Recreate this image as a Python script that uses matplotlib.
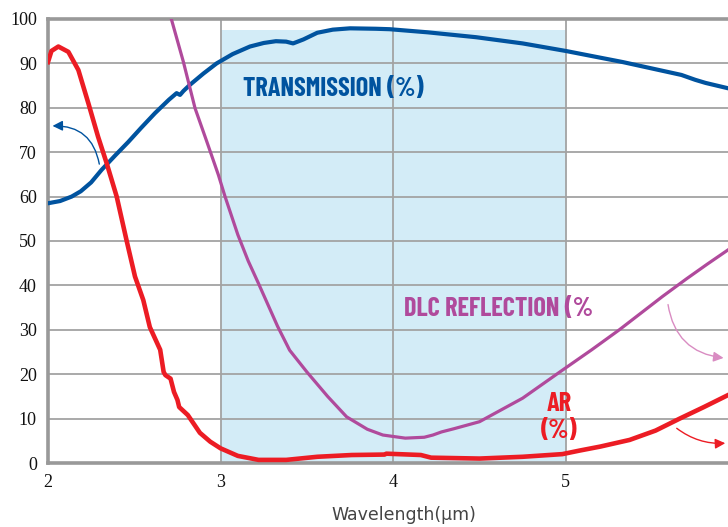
import matplotlib
matplotlib.use("Agg")
import matplotlib.pyplot as plt

# 数据
trans_x = [2.0, 2.07, 2.137, 2.19, 2.25, 2.31, 2.39, 2.465, 2.54, 2.62, 2.7, 2.745, 2.765,
           2.785, 2.82, 2.9, 2.977, 3.07, 3.17, 3.25, 3.32, 3.38, 3.42, 3.48, 3.56, 3.65,
           3.75, 3.9, 3.98, 4.2, 4.48, 4.75, 5.0, 5.33, 5.67, 5.75, 5.81, 5.94]
trans_y = [58.5, 59.0, 60.0, 61.2, 63.2, 66.0, 69.3, 72.3, 75.5, 78.8, 81.8, 83.3, 82.9,
           83.8, 85.1, 87.7, 90.0, 92.1, 93.8, 94.6, 95.0, 94.9, 94.5, 95.4, 96.9, 97.6,
           97.9, 97.8, 97.7, 97.0, 95.9, 94.5, 92.8, 90.3, 87.4, 86.3, 85.6, 84.4]

ar_x = [2.0, 2.02, 2.06, 2.118, 2.176, 2.234, 2.29, 2.34, 2.398, 2.456, 2.504, 2.552,
        2.59, 2.65, 2.67, 2.68, 2.71, 2.73, 2.75, 2.76, 2.81, 2.88, 2.94, 3.0, 3.1,
        3.22, 3.38, 3.56, 3.76, 3.95, 3.96, 4.16, 4.22, 4.5, 4.75, 4.98, 5.08, 5.2,
        5.37, 5.52, 5.66, 5.8, 5.94]
ar_y = [90.3, 92.8, 93.8, 92.6, 88.5, 81.0, 73.5, 67.5, 60.0, 50.0, 42.0, 36.7,
        30.6, 25.5, 20.5, 19.8, 19.0, 16.0, 14.2, 12.6, 10.8, 6.8, 4.8, 3.3, 1.6,
        0.7, 0.7, 1.4, 1.8, 1.9, 2.1, 1.8, 1.2, 1.0, 1.4, 2.0, 2.8, 3.7,
        5.2, 7.3, 10.0, 12.6, 15.3]

dlc_x = [2.716, 2.784, 2.852, 2.92, 2.987, 3.025, 3.10, 3.16, 3.22, 3.33, 3.40, 3.50,
         3.62, 3.73, 3.85, 3.94, 4.07, 4.18, 4.23, 4.28, 4.35, 4.5, 4.75, 4.98, 5.15,
         5.31, 5.45, 5.56, 5.7, 5.82, 5.94]
dlc_y = [99.8, 90.4, 79.9, 72.4, 64.9, 60.1, 51.4, 45.5, 40.4, 30.8, 25.4, 20.5,
         15.0, 10.4, 7.6, 6.3, 5.6, 5.8, 6.3, 7.0, 7.7, 9.3, 14.6, 20.9, 25.5,
         30.0, 34.2, 37.5, 41.5, 44.8, 48.0]

x_ticks = [2, 3, 4, 5]
y_ticks = [0, 10, 20, 30, 40, 50, 60, 70, 80, 90, 100]

BLUE = "#00539f"
RED = "#ec1c24"
PURPLE = "#b04a9c"
PINK = "#d98cc2"
SHADE = "#d3ecf7"
GRID = "#a3a3a3"
SPINE = "#999999"

# 窄体粗字 (类似 Helvetica Condensed)
label_font = dict(family=["Barlow Condensed", "DejaVu Sans"], weight="bold")

fig = plt.figure(figsize=(7.28, 5.27), dpi=100)
ax = fig.add_axes([48 / 728, 1 - 463 / 527, 1 - 48 / 728, (463 - 19) / 527])
ax.set_xlim(2, 2 + 680 / 172.6)
ax.set_ylim(0, 100)

# 3-5 μm 阴影区
ax.axvspan(3, 5, ymin=0, ymax=0.975, color=SHADE, lw=0, zorder=0)

for yv in y_ticks[1:-1]:
    ax.axhline(yv, color=GRID, lw=1.3, zorder=0.5)
for xv in x_ticks[1:]:
    ax.axvline(xv, color=GRID, lw=1.3, zorder=0.5)

ax.plot(trans_x, trans_y, color=BLUE, lw=3.0, zorder=3, solid_joinstyle="round")
ax.plot(dlc_x, dlc_y, color=PURPLE, lw=2.3, zorder=3, solid_joinstyle="round")
ax.plot(ar_x, ar_y, color=RED, lw=3.3, zorder=4, solid_joinstyle="round")

for side in ["left", "bottom", "top"]:
    ax.spines[side].set_color(SPINE)
    ax.spines[side].set_linewidth(2.6)
ax.spines["right"].set_visible(False)

ax.set_xticks(x_ticks)
ax.set_yticks(y_ticks)
ax.tick_params(length=0, labelsize=13, colors="#111111", pad=8)
for lab in ax.get_xticklabels() + ax.get_yticklabels():
    lab.set_fontfamily("Liberation Serif")

# 曲线标签
ax.text(3.13, 84.3, "TRANSMISSION (%)", color=BLUE, fontsize=19,
        ha="left", va="center", zorder=5, **label_font)
ax.text(4.06, 34.6, "DLC REFLECTION (%", color=PURPLE, fontsize=19,
        ha="left", va="center", zorder=5, **label_font)
ax.text(4.96, 13.3, "AR", color=RED, fontsize=19, ha="center", va="center",
        zorder=5, **label_font)
ax.text(4.96, 7.3, "(%)", color=RED, fontsize=19, ha="center", va="center",
        zorder=5, **label_font)

# 指示箭头
ax.annotate("", xy=(2.01, 75.9), xytext=(2.30, 66.7),
            arrowprops=dict(arrowstyle="-|>,head_length=0.6,head_width=0.3",
                            color=BLUE, lw=1.0,
                            connectionstyle="arc3,rad=0.45"), zorder=5)
ax.annotate("", xy=(5.93, 23.6), xytext=(5.59, 36.3),
            arrowprops=dict(arrowstyle="-|>,head_length=0.6,head_width=0.3",
                            color=PINK, lw=1.0,
                            connectionstyle="arc3,rad=0.4"), zorder=5)
ax.annotate("", xy=(5.94, 4.5), xytext=(5.63, 8.2),
            arrowprops=dict(arrowstyle="-|>,head_length=0.6,head_width=0.3",
                            color=RED, lw=1.0,
                            connectionstyle="arc3,rad=0.2"), zorder=5)

fig.text(404 / 728, 1 - 515 / 527, "Wavelength(μm)", ha="center", va="center",
         fontsize=12.5, color="#444444", family="DejaVu Sans")

fig.savefig("out.png", dpi=100)
